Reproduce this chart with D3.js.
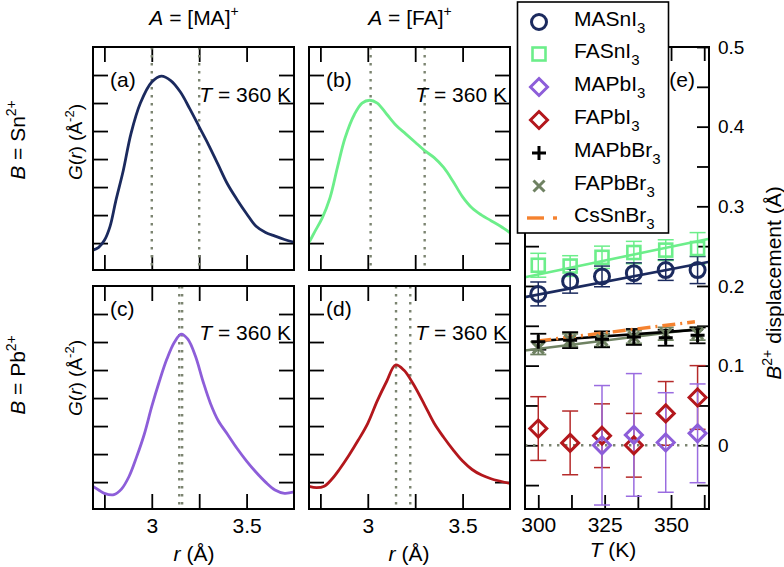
<!DOCTYPE html>
<html>
<head>
<meta charset="utf-8">
<script src="https://cdn.jsdelivr.net/npm/d3@7"></script>
<style>
  body { margin: 0; background: #fff; }
  svg { font-family: "Liberation Sans", Arial, sans-serif; }
</style>
</head>
<body>
<svg id="chart" width="784" height="567"></svg>
<script>
// ---- G(r) curves, T = 360 K ----
const rA = [2.69, 2.72, 2.75, 2.78, 2.81, 2.85, 2.89, 2.94, 3.0, 3.05, 3.1, 3.15, 3.2, 3.25, 3.3, 3.35, 3.4, 3.45, 3.5, 3.55, 3.6, 3.65, 3.7, 3.75];
const gA = [0.75, 0.85, 1.1, 1.6, 2.5, 3.6, 4.9, 6.0, 6.75, 6.96, 6.8, 6.4, 5.8, 5.15, 4.5, 3.8, 3.1, 2.55, 2.05, 1.6, 1.38, 1.25, 1.13, 1.03];
const rB = [2.69, 2.72, 2.76, 2.8, 2.84, 2.88, 2.93, 2.97, 3.01, 3.05, 3.1, 3.15, 3.2, 3.25, 3.3, 3.35, 3.4, 3.45, 3.5, 3.55, 3.6, 3.65, 3.7, 3.75];
const gB = [1.02, 1.4, 1.9, 2.6, 3.7, 4.75, 5.6, 6.0, 6.1, 6.0, 5.6, 5.2, 4.9, 4.6, 4.3, 4.05, 3.7, 3.2, 2.65, 2.25, 2.0, 1.8, 1.6, 1.37];
const rC = [2.69, 2.72, 2.75, 2.8, 2.84, 2.88, 2.92, 2.96, 3.0, 3.04, 3.08, 3.12, 3.155, 3.19, 3.23, 3.27, 3.31, 3.35, 3.4, 3.45, 3.5, 3.55, 3.6, 3.65, 3.7, 3.75];
const gC = [0.85, 0.72, 0.6, 0.55, 0.75, 1.2, 1.9, 2.7, 3.7, 4.6, 5.4, 6.0, 6.28, 6.1, 5.5, 4.6, 3.8, 3.2, 2.7, 2.2, 1.75, 1.35, 1.0, 0.72, 0.6, 0.65];
const rD = [2.69, 2.73, 2.77, 2.81, 2.85, 2.9, 2.95, 3.0, 3.05, 3.1, 3.146, 3.19, 3.24, 3.3, 3.35, 3.4, 3.45, 3.5, 3.55, 3.6, 3.65, 3.7, 3.75];
const gD = [0.85, 0.8, 0.85, 1.1, 1.45, 1.95, 2.5, 3.1, 3.9, 4.6, 5.18, 5.0, 4.5, 3.75, 3.1, 2.6, 2.15, 1.75, 1.45, 1.25, 1.12, 1.03, 0.95];
const dotsA = [3.0, 3.25];
const dotsB = [3.015, 3.3];
const dotsC = [3.145, 3.16];
const dotsD = [3.149, 3.224];

// ---- B2+ displacement vs T ----
const temps = [300, 312, 324, 336, 348, 360];
const maSnI3 = [0.190, 0.206, 0.212, 0.216, 0.220, 0.220];
const maSnI3Err = [0.015, 0.015, 0.013, 0.013, 0.013, 0.017];
const faSnI3 = [0.226, 0.225, 0.236, 0.242, 0.245, 0.247];
const faSnI3Err = [0.015, 0.013, 0.014, 0.014, 0.013, 0.02];
const maPbI3T = [324, 336, 348, 360];
const maPbI3 = [0.0, 0.013, 0.0035, 0.015];
const maPbI3Err = [0.075, 0.077, 0.0625, 0.062];
const faPbI3 = [0.021, 0.003, 0.012, 0.0, 0.04, 0.06];
const faPbI3Err = [0.04, 0.04, 0.04, 0.04, 0.04, 0.04];
const maPbBr3 = [0.130, 0.132, 0.133, 0.136, 0.135, 0.138];
const maPbBr3Err = [0.01, 0.01, 0.01, 0.01, 0.01, 0.01];
const faPbBr3 = [0.122, 0.132, 0.132, 0.136, 0.140, 0.140];
const faPbBr3Err = [0.008, 0.008, 0.008, 0.008, 0.008, 0.008];
// linear fits [T, value] end points
const fitMASnI3 = [[295, 0.186], [364, 0.230]];
const fitFASnI3 = [[295, 0.211], [364, 0.259]];
const fitMAPbBr3 = [[300, 0.131], [362, 0.1455]];
const fitFAPbBr3 = [[295, 0.119], [362, 0.147]];
const fitCsSnBr3 = [[300, 0.131], [359, 0.155]];

const C = {
  navy: '#1b2a5e', green: '#6cee8a', purple: '#8d5ed9', red: '#b3171c',
  black: '#000', gray: '#6f8262', orange: '#f5822f', dot: '#7b8470'
};

const svg = d3.select('#chart');
const FONT = 21;

// ---- G(r) panels ----
const pw = 201, ph = 223;
const rScale = d3.scaleLinear().domain([2.69, 3.75]).range([0, pw]);
const gScale = d3.scaleLinear().domain([0.04, 8]).range([ph, 0]);

const panels = [
  { x0: 93, y0: 47, r: rA, g: gA, color: C.navy, dots: dotsA, tag: '(a)', tagY: 40, tY: 55, bottom: false },
  { x0: 309, y0: 47, r: rB, g: gB, color: C.green, dots: dotsB, tag: '(b)', tagY: 40, tY: 55, bottom: false },
  { x0: 93, y0: 286, r: rC, g: gC, color: C.purple, dots: dotsC, tag: '(c)', tagY: 30, tY: 54, bottom: true },
  { x0: 309, y0: 286, r: rD, g: gD, color: C.red, dots: dotsD, tag: '(d)', tagY: 30, tY: 54, bottom: true }
];

const styleAxis = (g) => {
  g.select('.domain').remove();
  g.selectAll('.tick line').attr('stroke', '#000').attr('stroke-width', 1.8);
  g.selectAll('.tick text').attr('font-size', FONT).attr('fill', '#000');
};

panels.forEach((p) => {
  const g = svg.append('g').attr('transform', `translate(${p.x0},${p.y0})`);
  const rTicks = [2.75, 3, 3.25, 3.5];
  const gTicks = [1, 2, 3, 4, 5, 6, 7];

  g.append('g').attr('transform', `translate(0,${ph})`)
    .call(d3.axisBottom(rScale).tickValues(rTicks).tickSize(-15).tickPadding(9)
      .tickFormat((d) => (p.bottom && (d === 3 || d === 3.5) ? d3.format('')(d) : '')))
    .call(styleAxis);
  g.append('g')
    .call(d3.axisTop(rScale).tickValues(rTicks).tickSize(-15).tickFormat(''))
    .call(styleAxis);
  g.append('g')
    .call(d3.axisLeft(gScale).tickValues(gTicks).tickSize(-15).tickFormat(''))
    .call(styleAxis);
  g.append('g').attr('transform', `translate(${pw},0)`)
    .call(d3.axisRight(gScale).tickValues(gTicks).tickSize(-15).tickFormat(''))
    .call(styleAxis);

  g.selectAll('.vdot').data(p.dots).join('line')
    .attr('x1', (d) => rScale(d)).attr('x2', (d) => rScale(d))
    .attr('y1', 0).attr('y2', ph)
    .attr('stroke', C.dot).attr('stroke-width', 2.4)
    .attr('stroke-dasharray', '2.4,5.6');

  const pts = p.r.map((r, i) => [r, p.g[i]]);
  g.append('path').datum(pts)
    .attr('fill', 'none').attr('stroke', p.color).attr('stroke-width', 2.8)
    .attr('d', d3.line().x((d) => rScale(d[0])).y((d) => gScale(d[1])).curve(d3.curveCatmullRom));

  g.append('rect').attr('width', pw).attr('height', ph)
    .attr('fill', 'none').attr('stroke', '#000').attr('stroke-width', 2);

  g.append('text').attr('x', 17).attr('y', p.tagY).attr('font-size', FONT).text(p.tag);
  const t = g.append('text').attr('x', pw - 3).attr('y', p.tY)
    .attr('text-anchor', 'end').attr('font-size', FONT);
  t.append('tspan').attr('font-style', 'italic').text('T');
  t.append('tspan').text(' = 360 K');
});

// column titles
[['MA', 194], ['FA', 410]].forEach(([name, cx]) => {
  const t = svg.append('text').attr('x', cx).attr('y', 25)
    .attr('text-anchor', 'middle').attr('font-size', FONT);
  t.append('tspan').attr('font-style', 'italic').text('A');
  t.append('tspan').text(` = [${name}]`);
  t.append('tspan').attr('font-size', 14).attr('dy', -9).text('+');
});

// row labels and G(r) labels
[['Sn', 140, 142], ['Pb', 375, 378]].forEach(([el, cy, gy]) => {
  const t = svg.append('text').attr('transform', `translate(25,${cy}) rotate(-90)`)
    .attr('text-anchor', 'middle').attr('font-size', FONT);
  t.append('tspan').attr('font-style', 'italic').text('B');
  t.append('tspan').text(` = ${el}`);
  t.append('tspan').attr('font-size', 14).attr('dy', -9).text('2+');

  const gl = svg.append('text').attr('transform', `translate(82,${gy}) rotate(-90)`)
    .attr('text-anchor', 'middle').attr('font-size', 19);
  gl.append('tspan').attr('font-style', 'italic').text('G');
  gl.append('tspan').text('(');
  gl.append('tspan').attr('font-style', 'italic').text('r');
  gl.append('tspan').text(') (Å');
  gl.append('tspan').attr('font-size', 13).attr('dy', -8).text('-2');
  gl.append('tspan').attr('dy', 8).text(')');
});

// r axis titles
[194, 409].forEach((cx) => {
  const t = svg.append('text').attr('x', cx).attr('y', 561)
    .attr('text-anchor', 'middle').attr('font-size', FONT);
  t.append('tspan').attr('font-style', 'italic').text('r');
  t.append('tspan').text(' (Å)');
});

// ---- panel (e) ----
const ex0 = 525, ey0 = 47, ew = 184, eh = 462;
const tScale = d3.scaleLinear().domain([295, 364.3]).range([0, ew]);
const dScale = d3.scaleLinear().domain([-0.08, 0.5]).range([eh, 0]);
const ge = svg.append('g').attr('transform', `translate(${ex0},${ey0})`);

const tTicks = [300, 312.5, 325, 337.5, 350, 362.5];
const dTicks = d3.range(-0.05, 0.501, 0.05).map((d) => +d.toFixed(2));

ge.append('g').attr('transform', `translate(0,${eh})`)
  .call(d3.axisBottom(tScale).tickValues(tTicks).tickSize(-14).tickPadding(8)
    .tickFormat((d) => ([300, 325, 350].includes(d) ? d : '')))
  .call(styleAxis);
ge.append('g')
  .call(d3.axisTop(tScale).tickValues(tTicks).tickSize(-14).tickFormat(''))
  .call(styleAxis);
ge.append('g')
  .call(d3.axisLeft(dScale).tickValues(dTicks).tickSize(-14).tickFormat(''))
  .call(styleAxis);
ge.append('g').attr('transform', `translate(${ew},0)`)
  .call(d3.axisRight(dScale).tickValues(dTicks).tickSize(-12).tickPadding(9)
    .tickFormat((d) => (Math.abs(d * 10 - Math.round(d * 10)) < 1e-6 && d >= 0 ? d3.format('')(d) : '')))
  .call(styleAxis)
  .call((g) => g.selectAll('.tick text').attr('font-size', 19));

// zero reference
ge.append('line').attr('x1', 0).attr('x2', ew)
  .attr('y1', dScale(0)).attr('y2', dScale(0))
  .attr('stroke', C.dot).attr('stroke-width', 2.4).attr('stroke-dasharray', '2.4,5.6');

const errBars = (T, vals, errs, color, width) => {
  const rows = T.map((t, i) => ({ t, v: vals[i], e: errs[i] }));
  const g = ge.append('g').attr('stroke', color).attr('stroke-width', width).attr('fill', 'none');
  rows.forEach((d) => {
    const x = tScale(d.t), y1 = dScale(d.v - d.e), y2 = dScale(d.v + d.e);
    g.append('line').attr('x1', x).attr('x2', x).attr('y1', y1).attr('y2', y2);
    g.append('line').attr('x1', x - 8).attr('x2', x + 8).attr('y1', y1).attr('y2', y1);
    g.append('line').attr('x1', x - 8).attr('x2', x + 8).attr('y1', y2).attr('y2', y2);
  });
};

const fitLine = (pts, color, width, dash) => {
  ge.append('path').datum(pts)
    .attr('fill', 'none').attr('stroke', color).attr('stroke-width', width)
    .attr('stroke-dasharray', dash || null)
    .attr('d', d3.line().x((d) => tScale(d[0])).y((d) => dScale(d[1])));
};

// marker shapes drawn at (0,0)
const marker = {
  circle: (g, c) => g.append('circle').attr('r', 7.5).attr('fill', 'none').attr('stroke', c).attr('stroke-width', 3),
  square: (g, c) => g.append('rect').attr('x', -6.5).attr('y', -6.5).attr('width', 13).attr('height', 13)
    .attr('fill', 'none').attr('stroke', c).attr('stroke-width', 2.6),
  diamond: (g, c) => g.append('path').attr('d', 'M0,-8.5L8.5,0L0,8.5L-8.5,0Z')
    .attr('fill', 'none').attr('stroke', c).attr('stroke-width', 3),
  plus: (g, c) => g.append('path').attr('d', 'M-7,0H7M0,-7V7').attr('stroke', c).attr('stroke-width', 3),
  cross: (g, c) => g.append('path').attr('d', 'M-5.5,-5.5L5.5,5.5M-5.5,5.5L5.5,-5.5').attr('stroke', c).attr('stroke-width', 3)
};

const points = (T, vals, shape, color) => {
  T.forEach((t, i) => {
    const g = ge.append('g').attr('transform', `translate(${tScale(t)},${dScale(vals[i])})`);
    marker[shape](g, color);
  });
};

errBars(temps, faPbI3, faPbI3Err, '#b52a2a', 1.5);
errBars(maPbI3T, maPbI3, maPbI3Err, '#9a6ce0', 1.5);
errBars(temps, faPbBr3, faPbBr3Err, C.gray, 1.8);
errBars(temps, maPbBr3, maPbBr3Err, C.black, 1.8);
errBars(temps, faSnI3, faSnI3Err, C.green, 1.5);
errBars(temps, maSnI3, maSnI3Err, C.navy, 1.5);

fitLine(fitFAPbBr3, C.gray, 2.6);
fitLine(fitMAPbBr3, C.black, 2.6);
fitLine(fitCsSnBr3, C.orange, 3.4, '13,5,2,5');
fitLine(fitFASnI3, C.green, 2.6);
fitLine(fitMASnI3, C.navy, 2.6);

points(temps, faPbI3, 'diamond', C.red);
points(maPbI3T, maPbI3, 'diamond', C.purple);
points(temps, faPbBr3, 'cross', C.gray);
points(temps, maPbBr3, 'plus', C.black);
points(temps, faSnI3, 'square', C.green);
points(temps, maSnI3, 'circle', C.navy);

ge.append('rect').attr('width', ew).attr('height', eh)
  .attr('fill', 'none').attr('stroke', '#000').attr('stroke-width', 2);

ge.append('text').attr('x', 170).attr('y', 40).attr('text-anchor', 'end')
  .attr('font-size', FONT).text('(e)');

// T axis title
const tt = svg.append('text').attr('x', 613).attr('y', 557)
  .attr('text-anchor', 'middle').attr('font-size', FONT);
tt.append('tspan').attr('font-style', 'italic').text('T');
tt.append('tspan').text(' (K)');

// right y title
const yt = svg.append('text').attr('transform', 'translate(781,283) rotate(-90)')
  .attr('text-anchor', 'middle').attr('font-size', FONT);
yt.append('tspan').attr('font-style', 'italic').text('B');
yt.append('tspan').attr('font-size', 14).attr('dy', -9).text('2+');
yt.append('tspan').attr('dy', 9).text(' displacement (Å)');

// ---- legend ----
const legendNames = ['MASnI', 'FASnI', 'MAPbI', 'FAPbI', 'MAPbBr', 'FAPbBr', 'CsSnBr'];
const legendShapes = ['circle', 'square', 'diamond', 'diamond', 'plus', 'cross', 'dash'];
const legendColors = [C.navy, C.green, C.purple, C.red, C.black, C.gray, C.orange];
const legendY = [22, 54, 87, 120, 153, 186, 218];

svg.append('rect').attr('x', 517.5).attr('y', 2).attr('width', 151).attr('height', 231)
  .attr('fill', '#fff').attr('stroke', '#000').attr('stroke-width', 1.6);

legendNames.forEach((name, i) => {
  const y = legendY[i];
  if (legendShapes[i] === 'dash') {
    svg.append('line').attr('x1', 527).attr('x2', 544).attr('y1', y).attr('y2', y)
      .attr('stroke', legendColors[i]).attr('stroke-width', 3.4);
    svg.append('line').attr('x1', 553).attr('x2', 557).attr('y1', y).attr('y2', y)
      .attr('stroke', legendColors[i]).attr('stroke-width', 3.4);
  } else {
    const g = svg.append('g').attr('transform', `translate(539,${y})`);
    marker[legendShapes[i]](g, legendColors[i]);
  }
  const t = svg.append('text').attr('x', 574).attr('y', y + 4).attr('font-size', FONT);
  t.append('tspan').text(name);
  t.append('tspan').attr('font-size', 15).attr('dy', 7).text('3');
});
</script>
</body>
</html>
